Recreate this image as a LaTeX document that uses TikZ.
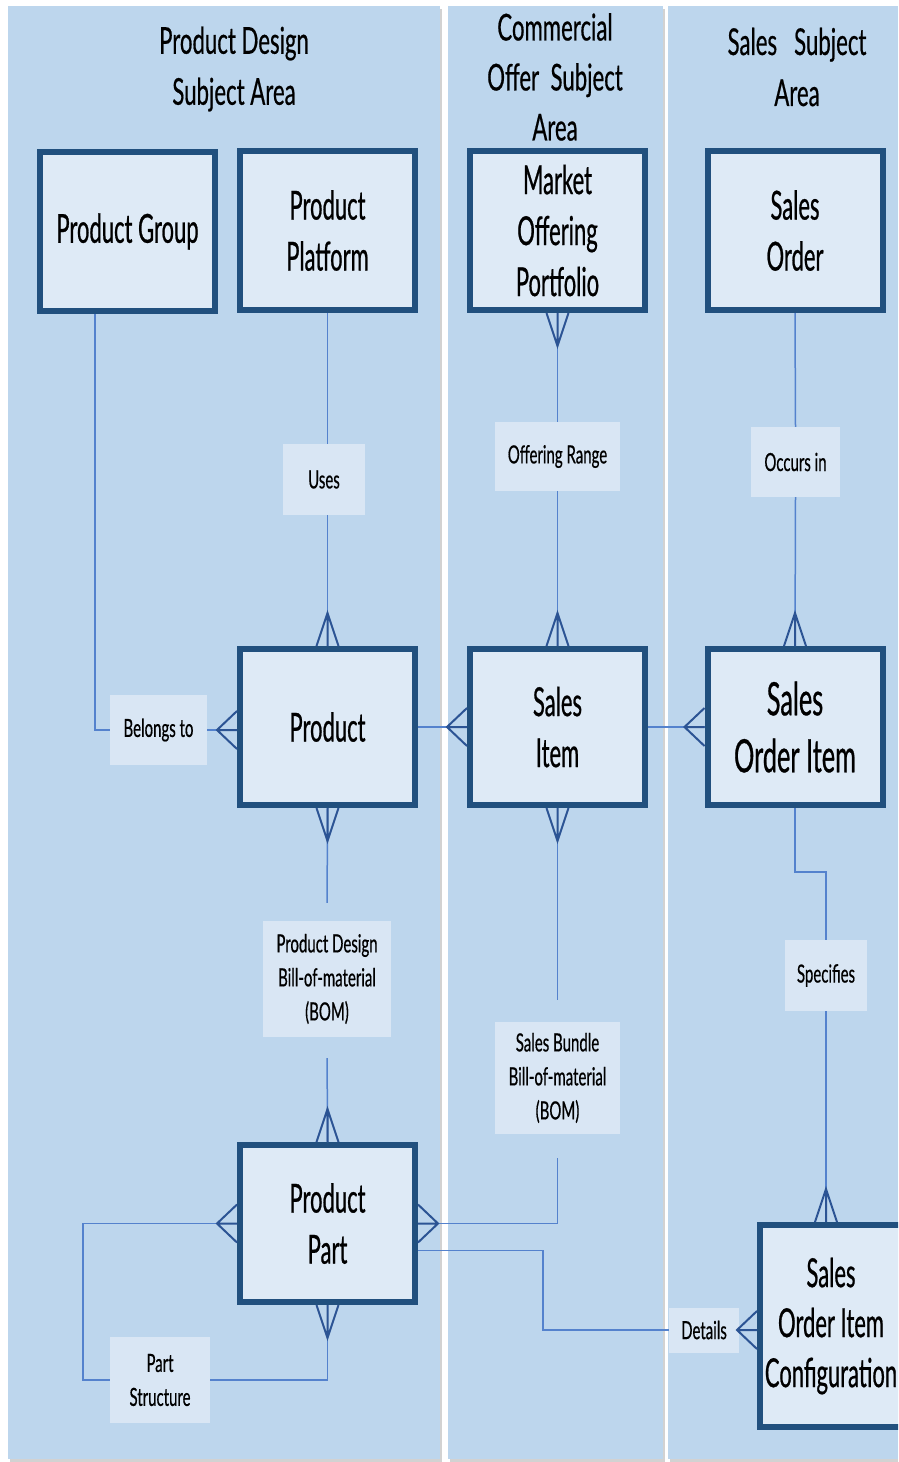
\documentclass[tikz,border=0pt]{standalone}
\usepackage{fontspec}
\setmainfont{Lato}[FakeStretch=0.6, FakeBold=0.5]
\newfontfamily\entfont{Lato}[FakeStretch=0.55, FakeBold=0.6]
\usetikzlibrary{positioning,calc}

\definecolor{panelblue}{RGB}{189,214,237}
\definecolor{boxfill}{RGB}{222,234,246}
\definecolor{boxline}{RGB}{33,80,126}
\definecolor{relfill}{RGB}{217,230,244}
\definecolor{linkblue}{RGB}{84,130,205}
\definecolor{footblue}{RGB}{44,84,148}

\begin{document}
\begin{tikzpicture}[x=1pt, y=-1pt,
    entity/.style={draw=boxline, line width=6pt, fill=boxfill, align=center, inner sep=0pt,
      minimum width=175pt, minimum height=157pt, font=\entfont\fontsize{40}{51}\selectfont},
    rel/.style={fill=relfill, align=center, inner sep=0pt, font=\fontsize{25}{34}\selectfont},
    area/.style={align=center, font=\fontsize{37}{51}\selectfont},
    link/.style={draw=linkblue, line width=1.5pt},
    foot/.style={draw=footblue, line width=2pt},
    pics/crowv/.style={code={\draw[foot] (-11,0) -- (0,-33) -- (11,0) (0,0) -- (0,-33);}},
    pics/crowh/.style={code={\draw[foot] (0,-19) -- (-20,0) -- (0,19) (0,0) -- (-20,0);}}]
  \clip (0,0) rectangle (898,1462);
  \fill[white] (0,0) rectangle (898,1462);

  % subject area panels
  \fill[gray!35] (10,9) rectangle (442,1462);
  \fill[gray!35] (450,9) rectangle (665,1462);
  \fill[gray!35] (670,9) rectangle (898,1462);
  \fill[panelblue] (8,6) rectangle (440,1459);
  \fill[panelblue] (448,6) rectangle (663,1459);
  \fill[panelblue] (668,6) rectangle (898,1459);

  \node[area] (designarea) at (234,69) {Product Design\\Subject Area};
  \node[area, font=\fontsize{37}{50}\selectfont] (offerarea) at (555,77) {Commercial\\Offer~~Subject\\Area};
  \node[area] (salesarea) at (797,67) {Sales~~~Subject\\Area};

  % entities
  \node[entity, minimum height=159pt] (pgroup) at (127.5,231.5) {Product Group};
  \node[entity, minimum height=159pt] (pplat) at (327.5,230.5) {Product\\Platform};
  \node[entity, minimum height=159pt] (mop) at (557.5,230.5) {Market\\Offering\\Portfolio};
  \node[entity, minimum height=159pt] (sorder) at (795,230.5) {Sales\\Order};
  \node[entity, minimum height=156pt] (prod) at (327.5,727) {Product};
  \node[entity, minimum height=156pt] (sitem) at (557.5,727) {Sales\\Item};
  \node[entity, minimum height=156pt, font=\entfont\fontsize{46}{57}\selectfont] (soitem) at (795,727) {Sales\\Order Item};
  \node[entity] (ppart) at (327.5,1223.5) {Product\\Part};
  \node[entity, minimum width=142pt, minimum height=202pt, font=\entfont\fontsize{40}{50}\selectfont] (soic) at (831,1326) {Sales\\Order Item\\Configuration};

  % relationship labels
  \node[rel, minimum width=82pt, minimum height=71pt] (uses) at (324,479.5) {Uses};
  \node[rel, minimum width=125pt, minimum height=69pt] (offrange) at (557.5,456.5) {Offering Range};
  \node[rel, minimum width=89pt, minimum height=70pt] (occurs) at (795.5,462) {Occurs in};
  \node[rel, minimum width=97pt, minimum height=70pt] (belongs) at (158.5,730) {Belongs to};
  \node[rel, minimum width=128pt, minimum height=116pt] (pdbom) at (327,979) {Product Design\\Bill-of-material\\(BOM)};
  \node[rel, minimum width=125pt, minimum height=112pt] (sbbom) at (557.5,1078) {Sales Bundle\\Bill-of-material\\(BOM)};
  \node[rel, minimum width=82pt, minimum height=71pt] (specifies) at (826,975.5) {Specifies};
  \node[rel, minimum width=100pt, minimum height=86pt] (partstr) at (160,1380) {Part\\Structure};
  \node[rel, minimum width=70pt, minimum height=45pt] (details) at (704,1330) {Details};

  % product group - product
  \draw[link] ([xshift=-32.5pt]pgroup.south) |- (belongs.west);
  \draw[link] (belongs.east) -- (belongs.east -| prod.west);
  \pic at (belongs.east -| prod.west) {crowh};

  % product platform - product
  \draw[link] (pplat.south) -- (pplat.south |- uses.north);
  \draw[link] (prod.north |- uses.south) -- (prod.north);
  \pic at (prod.north) {crowv};

  % market offering portfolio - sales item
  \draw[link] (mop.south) -- (offrange.north);
  \pic[rotate=180] at (mop.south) {crowv};
  \draw[link] (offrange.south) -- (sitem.north);
  \pic at (sitem.north) {crowv};

  % sales order - sales order item
  \draw[link] (sorder.south) -- (occurs.north);
  \draw[link] (occurs.south) -- (soitem.north);
  \pic at (soitem.north) {crowv};

  % product - sales item - sales order item
  \draw[link] (prod.east) -- (sitem.west);
  \pic at (sitem.west) {crowh};
  \draw[link] (sitem.east) -- (soitem.west);
  \pic at (soitem.west) {crowh};

  % design BOM
  \draw[link, shorten >=18pt] (prod.south) -- (pdbom.north);
  \pic[rotate=180] at (prod.south) {crowv};
  \draw[link, shorten <=21pt] (pdbom.south) -- (ppart.north);
  \pic at (ppart.north) {crowv};

  % sales bundle BOM
  \draw[link, shorten >=22pt] (sitem.south) -- (sbbom.north);
  \pic[rotate=180] at (sitem.south) {crowv};
  \draw[link, shorten <=24pt] (sbbom.south) |- (ppart.east);
  \pic[rotate=180] at (ppart.east) {crowh};

  % sales order item - configuration
  \draw[link] (soitem.south) -- ++(0,64) -| (specifies.north);
  \draw[link] (specifies.south) -- (specifies.south |- soic.north);
  \pic at (specifies.south |- soic.north) {crowv};

  % product part - configuration
  \draw[link] ([yshift=-27pt]ppart.east) -| ($(details.west)+(-126,0)$) -- (details.west);
  \draw[link] (details.east) -- (details.east -| soic.west);
  \pic at (details.east -| soic.west) {crowh};

  % part structure
  \draw[link] (ppart.west) -- ++(-154,0) |- (partstr.west);
  \pic at (ppart.west) {crowh};
  \draw[link] (partstr.east) -| (ppart.south);
  \pic[rotate=180] at (ppart.south) {crowv};
\end{tikzpicture}
\end{document}
